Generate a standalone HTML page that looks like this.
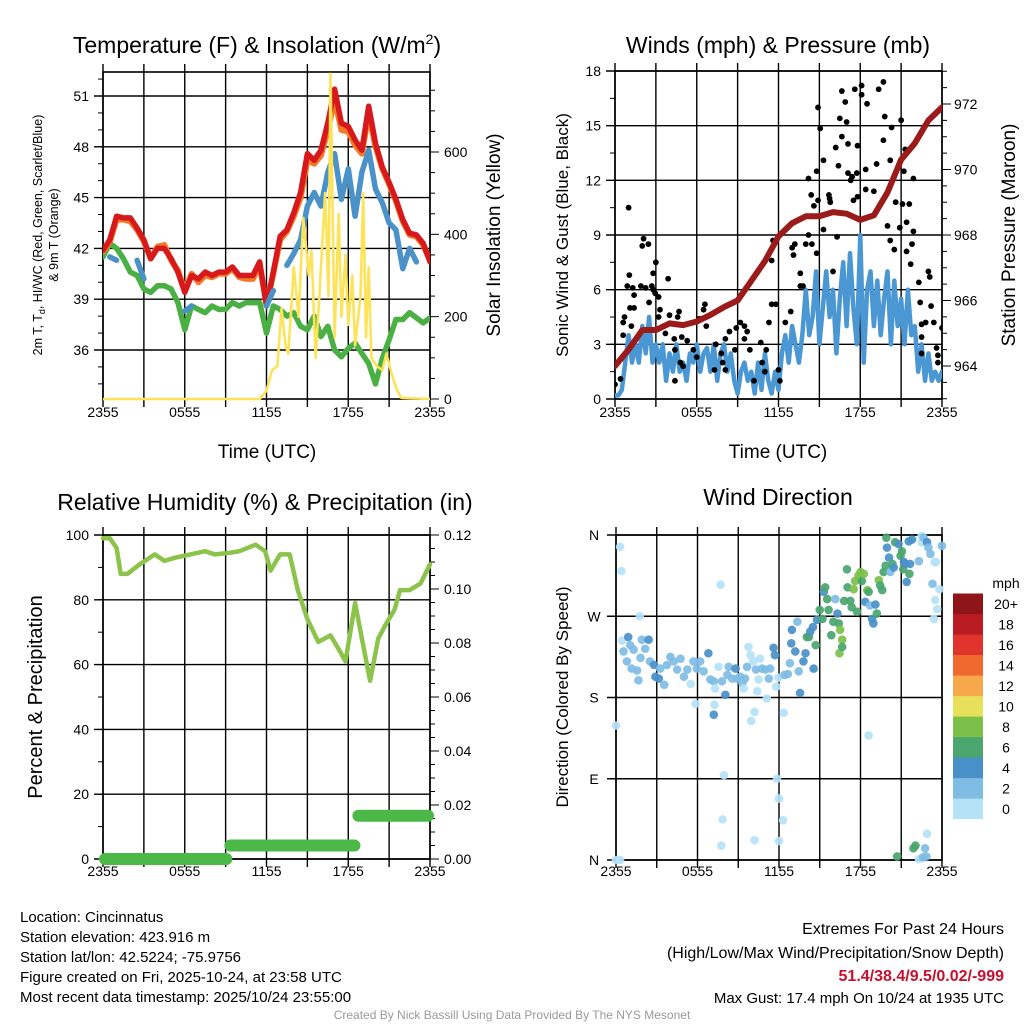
<!DOCTYPE html>
<html><head><meta charset="utf-8"><style>
html,body{margin:0;padding:0;background:#fff;}
svg{display:block;font-family:"Liberation Sans",Arial,sans-serif;}
</style></head><body>
<svg id="c" width="1024" height="1024" viewBox="0 0 1024 1024" xmlns="http://www.w3.org/2000/svg"></svg>
<script>
// ---------- DATA ----------
const timeTicks = [0, 6, 12, 18, 24];
const timeTickLabels = ["2355", "0555", "1155", "1755", "2355"];
// Panel 1 (half-hourly from 2355)
const tempRed = [41.9,42.5,43.9,43.8,43.8,43.2,42.5,41.4,42.0,42.0,41.4,40.6,39.4,40.4,40.2,40.6,40.4,40.6,40.6,40.9,40.4,40.4,40.4,41.2,38.6,40.6,42.7,43.1,44.1,45.3,47.6,47.2,47.8,49.4,51.4,49.4,49.2,48.4,47.8,50.4,48.2,46.8,45.9,44.9,43.7,42.9,42.8,42.3,41.2];
const temp9m = [41.8,42.4,43.7,43.7,43.6,43.1,42.4,41.4,42.1,42.2,41.3,40.7,39.5,40.5,40.0,40.4,40.3,40.5,40.5,40.8,40.3,40.2,40.2,41.0,38.7,40.5,42.5,43.0,43.9,45.0,47.2,47.0,47.5,49.0,50.8,49.0,48.9,48.1,47.6,50.0,48.0,46.7,45.8,44.8,43.6,42.8,42.7,42.2,41.3];
const tempHI = [null,41.5,41.3,null,null,41.3,40.2,null,null,null,null,null,38.3,38.6,null,null,null,null,39.5,null,null,null,40.5,null,38.6,39.5,null,41.0,41.7,42.5,44.5,45.3,44.5,46.5,47.6,44.9,46.7,43.9,46.5,47.8,45.5,44.7,43.5,43.1,40.8,42.0,41.2,null,null];
const tempDew = [41.5,42.3,42.0,41.4,40.6,40.4,39.6,39.4,39.8,39.8,39.6,38.8,37.2,38.6,38.4,38.2,38.6,38.4,38.4,38.8,38.6,38.8,38.8,38.8,37.0,38.6,38.4,38.0,38.2,37.4,37.2,38.0,36.8,37.4,36.0,35.6,36.1,36.4,35.8,35.2,34.0,35.5,36.6,37.8,37.8,38.2,37.9,37.6,37.9];
const solarT = [0,11.5,12.0,12.4,12.8,13.1,13.4,13.6,14.0,14.35,14.7,15.1,15.3,15.6,15.9,16.3,16.55,16.7,17.0,17.3,17.5,17.8,18.0,18.3,18.5,18.9,19.1,19.3,19.5,19.7,20.1,20.5,20.8,21.2,21.6,21.9,24];
const solarW = [0,0,20,70,80,220,130,110,320,200,440,300,360,100,260,500,250,790,150,450,200,350,180,300,130,250,500,150,320,100,80,70,110,60,20,3,0];
// Panel 2
const pressT = [0,1,2,3,4,5,6,7,8,9,10,11,12,13,14,15,16,17,18,19,20,21,22,23,24];
const pressMb = [964.0,964.5,965.1,965.1,965.3,965.25,965.36,965.56,965.8,966.0,966.6,967.2,967.96,968.36,968.57,968.57,968.7,968.65,968.46,968.6,969.3,970.3,970.8,971.5,971.9];
const windMph = [0.2,0.2,0.5,2.0, 3.5,2.0,3.0,2.0, 4.0,2.5,4.5,2.0, 3.0,2.0,3.0,1.0, 2.5,1.5,3.0,1.5, 2.0,1.0,2.5,2.0, 3.0,1.5,2.5,2.8, 1.5,3.0,1.0,2.5, 3.0,1.5,2.5,1.0, 0.3,1.5,2.0,1.0, 1.5,0.3,2.0,0.5, 2.5,1.0,0.3,1.5, 0.5,2.5,3.5,2.0, 4.0,3.0,2.0,3.5, 6.0,3.5,4.5,7.0, 3.0,5.0,7.0,4.5, 6.0,2.5,5.5,7.5, 4.0,8.0,5.0,3.0, 9.0,2.0,6.0,7.0, 4.0,6.5,3.5,5.5, 7.0,3.0,6.5,4.0, 5.5,3.0,6.0,3.5, 4.0,1.5,3.0,1.0, 2.5,1.0,1.5,1.0, 1.5];
const gustT = [0,0.4,0.6,0.6,0.7,0.9,1.0,1.05,1.1,1.2,1.3,1.4,1.4,1.9,2.1,2.0,2.45,2.25,2.7,2.8,3.0,2.8,2.95,3.2,2.5,3.3,3.2,3.9,4.0,4.7,4.6,3.7,4.35,4.9,5.3,6.6,6.5,5.75,6.0,6.2,6.7,7.4,7.8,8.1,8.4,9.2,8.9,9.5,9.7,9.5,9.9,10.2,10.7,10.8,11.0,11.1,12.0,12.1,12.5,12.9,5.0,4.4,4.4,4.8,7.9,7.3,8.1,8.8,11.6,11.5,11.5,11.8,11.3,13.0,13.2,13.1,13.6,13.6,13.8,14.0,14.2,14.45,14.8,15.3,15.75,16.0,16.3,17.5,17.8,17.3,18.4,19.0,17.75,14.9,15.06,16.65,16.9,17.6,18.1,18.1,18.5,19.7,19.35,19.8,21.0,20.3,16.5,17.0,16.2,16.65,17.1,17.8,16.4,14.8,15.3,14.2,14.4,14.6,14.9,15.7,15.8,17.1,17.4,18.4,19.2,19.7,21.3,20.2,21.2,21.9,20.6,21.1,21.6,21.4,21.9,20.9,20.0,20.2,20.5,21.4,21.8,21.7,23.0,23.1,22.3,22.4,23.2,22.5,22.8,23.4,24.0,23.6,23.7,23.7,22.5,22.5];
const gustMph = [0.8,1.1,3.5,4.2,4.5,6.2,10.5,6.8,5.0,4.0,6.1,5.7,5.0,6.2,8.8,8.4,8.5,6.1,6.2,6.0,7.5,6.9,5.8,5.6,5.3,4.9,4.5,6.6,4.6,4.8,4.5,3.6,3.3,3.4,3.2,5.2,4.9,2.7,2.3,4.4,4.0,3.0,2.5,3.3,3.7,4.2,3.9,4.0,3.7,3.3,2.7,1.0,3.1,2.0,1.5,2.7,1.6,1.0,4.2,4.8,1.8,2.7,1.0,2.0,2.0,1.6,1.6,2.7,8.7,7.6,5.2,5.2,4.2,8.3,8.5,7.9,6.9,6.2,6.2,8.5,9.0,8.5,8.0,9.3,11.0,7.0,8.9,10.9,11.1,12.0,11.5,11.4,12.4,16.0,14.85,16.9,16.3,17.0,17.2,16.7,16.2,17.4,17.0,15.5,15.3,14.9,15.4,15.2,13.8,14.4,14.0,13.9,12.8,12.5,13.1,12.1,11.2,10.6,10.9,11.2,10.8,12.4,12.2,12.6,12.9,14.2,13.7,13.1,12.5,12.1,10.8,10.7,10.7,9.7,9.2,9.4,9.5,8.7,8.2,8.1,8.5,7.4,7.0,6.7,6.4,5.3,5.1,4.1,4.2,4.2,3.9,2.8,2.4,2.0,3.4,2.5];
// Panel 3
const rhT = [0,0.5,1.0,1.3,1.8,2.7,3.8,4.5,5.3,6.4,7.5,8.2,9.3,10.0,11.2,11.9,12.3,13.0,13.7,14.3,15.0,15.8,16.7,17.4,17.8,18.5,19.0,19.6,20.2,20.7,21.4,21.8,22.5,23.3,24];
const rhPct = [99,99,96,88,88,91,94,92,93,94,95,94,94.5,95,97,95,89,94,94,83,74,67,69,64,61,79,68,55,68,72,77,83,83,85,91];
const precipStart = [0, 9.2, 18.6];
const precipEnd = [9.2, 18.6, 24];
const precipIn = [0.0, 0.005, 0.016];
// Panel 4
const dirT = [0.3,0.4,0,0,0.3,0.45,0.9,0.55,1.05,1.3,0.8,1.15,1.55,1.65,1.8,1.9,2.15,2.4,2.5,2.8,2.9,3.15,3.25,3.55,3.75,4.0,4.25,4.5,4.75,5.0,5.25,5.5,5.7,5.95,6.2,6.45,6.8,6.95,7.2,7.3,7.55,7.8,8.05,8.2,8.3,8.55,8.8,8.9,9.15,9.3,9.4,9.5,9.65,9.75,9.9,10.1,10.3,10.4,10.5,10.6,10.75,11.0,11.1,11.25,11.35,11.6,11.7,11.8,11.95,5.85,7.2,7.25,9.95,10.2,12.35,1.75,7.7,7.95,11.85,12.0,12.3,7.85,7.75,10.2,12.0,18.6,12.4,12.65,12.8,12.9,12.95,13.2,13.35,13.45,13.55,13.8,13.95,14.05,14.2,14.3,14.5,14.7,14.8,15.0,15.2,15.3,15.4,15.55,15.65,15.85,16.0,16.15,16.3,16.4,16.5,16.65,16.45,16.65,16.8,17.0,17.05,17.25,17.35,17.5,17.6,17.75,17.85,18.0,18.1,18.25,18.35,18.5,18.6,18.7,18.85,18.95,19.1,19.2,19.35,19.45,19.6,19.7,19.85,19.95,19.9,20.1,20.2,20.35,20.45,20.55,20.8,20.95,21.05,21.15,21.2,21.3,21.4,21.55,21.65,21.6,21.8,22.3,22.5,22.5,22.65,22.9,23.0,23.15,23.3,23.45,23.55,23.8,23.5,23.65,23.4,24.0,20.7,21.9,22.05,22.3,22.6,22.85,22.75,22.9,14.55];
const dirDeg = [347,320,149,0,0,243,247,231,238,233,220,212,210,199,224,244,234,244,220,216,203,201,212,194,216,225,220,211,223,203,211,195,220,212,220,209,229,200,198,190,214,198,183,205,214,201,212,201,203,196,190,201,214,236,227,220,211,187,200,223,212,211,179,201,212,235,227,192,202,173,161,172,154,164,163,270,305,94,90,68,44,45,16,22,21,138,205,206,218,240,255,231,264,209,185,220,229,247,247,253,258,238,266,277,267,297,302,289,277,249,264,289,273,262,255,244,229,236,287,322,302,287,280,300,309,275,315,319,309,317,286,299,297,282,267,262,283,273,310,304,299,319,326,346,357,335,319,328,324,352,350,337,342,322,330,328,308,353,328,317,355,331,359,352,357,352,346,339,306,330,330,300,288,278,267,348,4,13,16,1,3,4,13,29,212];
const dirSpd = [0,0,0,0,0,0,4,2,2,2,2,2,2,2,2,2,2,4,2,4,4,4,2,2,2,2,2,2,2,2,2,0,2,2,2,2,4,2,2,0,0,2,4,2,2,2,4,2,2,2,0,2,2,0,0,0,2,0,0,0,2,2,0,2,2,4,4,0,0,0,4,0,0,0,0,0,0,0,0,0,0,0,0,0,0,0,2,2,2,4,4,4,2,2,4,4,4,6,6,4,4,6,4,6,6,4,6,6,6,6,6,2,4,6,8,8,8,6,6,6,6,6,6,8,8,6,8,8,6,8,4,8,6,2,4,4,4,6,8,6,6,6,6,4,6,4,2,6,4,6,4,6,6,6,4,4,4,4,4,6,4,2,0,0,2,4,2,2,2,0,0,0,0,0,0,2,6,6,6,0,2,2,2,0,4];

// ---------- DRAWING ----------
const NS = "http://www.w3.org/2000/svg";
const svg = document.getElementById("c");
function el(tag, attrs, parent) {
  const e = document.createElementNS(NS, tag);
  for (const k in attrs) e.setAttribute(k, attrs[k]);
  (parent || svg).appendChild(e);
  return e;
}
function txt(s, x, y, size, anchor, parent, extra) {
  const t = el("text", Object.assign({x: x, y: y, "font-size": size, "text-anchor": anchor || "middle", fill: "#000"}, extra || {}), parent);
  t.textContent = s;
  return t;
}
function lin(d0, d1, r0, r1) { return v => r0 + (v - d0) / (d1 - d0) * (r1 - r0); }
function pathFrom(xs, ys, fx, fy) {
  let d = "", pen = false;
  for (let i = 0; i < xs.length; i++) {
    if (ys[i] === null) { pen = false; continue; }
    d += (pen ? "L" : "M") + fx(xs[i]).toFixed(1) + " " + fy(ys[i]).toFixed(1);
    pen = true;
  }
  return d;
}
const halfHours = tempRed.map((_, i) => i * 0.5);
const quarterHours = windMph.map((_, i) => i * 0.25);

function frame(g, L, R, T, B, fx, vGridHours, hGridVals, fy, tickLabelY) {
  for (const h of vGridHours) {
    el("line", {x1: fx(h), x2: fx(h), y1: T - 8, y2: B + 8, stroke: "#000", "stroke-width": 1.4}, g);
  }
  for (const v of hGridVals) {
    el("line", {x1: L - 9, x2: R, y1: fy(v), y2: fy(v), stroke: "#000", "stroke-width": 1.4}, g);
  }
  el("rect", {x: L, y: T, width: R - L, height: B - T, fill: "none", stroke: "#000", "stroke-width": 1.6}, g);
  timeTicks.forEach((h, i) => {
    const t = txt(timeTickLabels[i], fx(h), tickLabelY, 14, "middle", g);
    
    
  });
}

// ===== Panel 1 =====
(function () {
  const L = 103, R = 430, T = 72, B = 399;
  const g = el("g", { });
  const fx = lin(0, 24, L, R);
  const fy = lin(51, 36, 96, 350);
  const fs = lin(0, 600, 399, 152);
  frame(g, L, R, T, B, fx, [0,3,6,9,12,15,18,21,24], [36,39,42,45,48,51], fy, 417);
  for (let v = 34; v <= 52; v++) el("line", {x1: L - 5, x2: L, y1: fy(v), y2: fy(v), stroke: "#000", "stroke-width": 1}, g);
  [36,39,42,45,48,51].forEach(v => { const t = txt(String(v), L - 14, fy(v) + 5, 14, "end", g);   });
  for (let v = 0; v <= 750; v += 50) el("line", {x1: R, x2: R + (v % 200 === 0 ? 9 : 5), y1: fs(v), y2: fs(v), stroke: "#000", "stroke-width": 1}, g);
  [0,200,400,600].forEach(v => { const t = txt(String(v), R + 14, fs(v) + 5, 14, "start", g);   });
  const clip = el("clipPath", {id: "cp1"}, g); el("rect", {x: L, y: T - 2, width: R - L, height: B - T + 4}, clip);
  const pg = el("g", {"clip-path": "url(#cp1)"}, g);
  const s1 = el("path", {d: pathFrom(halfHours, tempDew, fx, fy), fill: "none", stroke: "#4bb043", "stroke-width": 5.5, "stroke-linejoin": "round", "stroke-linecap": "round"}, pg);
   
  const s2 = el("path", {d: pathFrom(halfHours, temp9m, fx, fy), fill: "none", stroke: "#f47a2a", "stroke-width": 6, "stroke-linejoin": "round", "stroke-linecap": "round"}, pg);
   
  const s3 = el("path", {d: pathFrom(halfHours, tempRed, fx, fy), fill: "none", stroke: "#d7191c", "stroke-width": 5.5, "stroke-linejoin": "round", "stroke-linecap": "round"}, pg);
   
  const s4 = el("path", {d: pathFrom(halfHours, tempHI, fx, fy), fill: "none", stroke: "#4a92c8", "stroke-width": 5.5, "stroke-linejoin": "round", "stroke-linecap": "round"}, pg);
   
  const s5 = el("path", {d: pathFrom(solarT, solarW, fx, fs), fill: "none", stroke: "#fde35a", "stroke-width": 2.6, "stroke-linejoin": "round"}, pg);
   
  const ti = txt("Temperature (F) & Insolation (W/m", 257, 53, 23, "middle", g);
  const sup = el("tspan", {dy: -9, "font-size": 14}, ti); sup.textContent = "2";
  const cl = el("tspan", {dy: 9}, ti); cl.textContent = ")";
   
  const xl = txt("Time (UTC)", 267, 458, 19, "middle", g);  
  const yl = el("text", {transform: "translate(42,235) rotate(-90)", "font-size": 12.5, "text-anchor": "middle"}, g);
  yl.innerHTML = '2m T, T<tspan font-size="9" dy="3">d</tspan><tspan dy="-3">, HI/WC (Red, Green, Scarlet/Blue)</tspan>';
   
  const yl2 = el("text", {transform: "translate(58,235) rotate(-90)", "font-size": 12.5, "text-anchor": "middle"}, g);
  yl2.textContent = "& 9m T (Orange)";
   
  const yr = el("text", {transform: "translate(500,235) rotate(-90)", "font-size": 19, "text-anchor": "middle"}, g);
  yr.textContent = "Solar Insolation (Yellow)";
   
})();

// ===== Panel 2 =====
(function () {
  const L = 615, R = 942, T = 71, B = 399;
  const g = el("g", { });
  const fx = lin(0, 24, L, R);
  const fy = lin(0, 18, 399, 71);
  const fp = lin(964, 972, 366, 104);
  frame(g, L, R, T, B, fx, [0,3,6,9,12,15,18,21,24], [0,3,6,9,12,15,18], fy, 417);
  for (let v = 0; v <= 18; v += 1.5) el("line", {x1: L - 5, x2: L, y1: fy(v), y2: fy(v), stroke: "#000", "stroke-width": 1}, g);
  [0,3,6,9,12,15,18].forEach(v => { const t = txt(String(v), L - 14, fy(v) + 5, 14, "end", g);   });
  for (let v = 963; v <= 973; v += 0.5) el("line", {x1: R, x2: R + (v % 2 === 0 ? 9 : 5), y1: fp(v), y2: fp(v), stroke: "#000", "stroke-width": 1}, g);
  [964,966,968,970,972].forEach(v => { const t = txt(String(v), R + 12, fp(v) + 5, 14, "start", g);   });
  const clip = el("clipPath", {id: "cp2"}, g); el("rect", {x: L, y: T - 2, width: R - L, height: B - T + 4}, clip);
  const pg = el("g", {"clip-path": "url(#cp2)"}, g);
  const w = el("path", {d: pathFrom(quarterHours, windMph, fx, fy), fill: "none", stroke: "#4a97d3", "stroke-width": 4.5, "stroke-linejoin": "round", "stroke-linecap": "round"}, pg);
   
  gustT.forEach((t, i) => {
    const c = el("circle", {cx: fx(t), cy: fy(gustMph[i]), r: 2.9, fill: "#000"}, pg);
    
    
  });
  const p = el("path", {d: pathFrom(pressT, pressMb, fx, fp), fill: "none", stroke: "#9b1a1a", "stroke-width": 6, "stroke-linejoin": "round", "stroke-linecap": "round"}, pg);
   
  const ti = txt("Winds (mph) & Pressure (mb)", 778, 53, 23, "middle", g);  
  const xl = txt("Time (UTC)", 778, 458, 19, "middle", g);  
  const yl = el("text", {transform: "translate(568,235) rotate(-90)", "font-size": 17, "text-anchor": "middle"}, g);
  yl.textContent = "Sonic Wind & Gust (Blue, Black)";
   
  const yr = el("text", {transform: "translate(1015,235) rotate(-90)", "font-size": 19, "text-anchor": "middle"}, g);
  yr.textContent = "Station Pressure (Maroon)";
   
})();

// ===== Panel 3 =====
(function () {
  const L = 103, R = 430, T = 535, B = 859;
  const g = el("g", { });
  const fx = lin(0, 24, L, R);
  const fy = lin(0, 100, 859, 535);
  const fpr = lin(0, 0.12, 859, 535);
  frame(g, L, R, T, B, fx, [0,3,6,9,12,15,18,21,24], [0,20,40,60,80,100], fy, 876);
  for (let v = 0; v <= 100; v += 10) el("line", {x1: L - 5, x2: L, y1: fy(v), y2: fy(v), stroke: "#000", "stroke-width": 1}, g);
  [0,20,40,60,80,100].forEach(v => { const t = txt(String(v), L - 14, fy(v) + 5, 14, "end", g);   });
  for (let i = 0; i <= 24; i++) { const v = i * 0.005; el("line", {x1: R, x2: R + (i % 4 === 0 ? 9 : 5), y1: fpr(v), y2: fpr(v), stroke: "#000", "stroke-width": 1}, g); }
  [0,0.02,0.04,0.06,0.08,0.10,0.12].forEach(v => { const t = txt(v.toFixed(2), R + 14, fpr(v) + 5, 14, "start", g);   });
  const rh = el("path", {d: pathFrom(rhT, rhPct, fx, fy), fill: "none", stroke: "#8cc34a", "stroke-width": 4.5, "stroke-linejoin": "round", "stroke-linecap": "round"}, g);
   
  precipIn.forEach((v, i) => {
    const s = el("line", {x1: fx(precipStart[i]) + 2, x2: fx(precipEnd[i]) - 2, y1: fpr(v), y2: fpr(v), stroke: "#4cb848", "stroke-width": 12, "stroke-linecap": "round"}, g);
    
    
  });
  const ti = txt("Relative Humidity (%) & Precipitation (in)", 265, 510, 23, "middle", g);  
  const yl = el("text", {transform: "translate(42,697) rotate(-90)", "font-size": 20, "text-anchor": "middle"}, g);
  yl.textContent = "Percent & Precipitation";
   
})();

// ===== Panel 4 =====
const speedBins = [0,2,4,6,8,10,12,14,16,18,20];
const speedColors = ["#b5e2f7","#7fbde4","#4a90c8","#4aa56e","#7cc04a","#e8e05a","#f6a84a","#f06a30","#e0332b","#bb1c24","#8e1518"];
(function () {
  const L = 616, R = 942, T = 535, B = 860;
  const g = el("g", { });
  const fx = lin(0, 24, L, R);
  const fy = lin(0, 360, 860, 535);
  frame(g, L, R, T, B, fx, [0,3,6,9,12,15,18,21,24], [0,90,180,270,360], fy, 876);
  [["N",0],["E",90],["S",180],["W",270],["N",360]].forEach(([s, v]) => { const t = txt(s, L - 22, fy(v) + 5, 14, "middle", g);   });
  dirT.forEach((t, i) => {
    let ci = 0;
    for (let k = 0; k < speedBins.length; k++) if (dirSpd[i] >= speedBins[k]) ci = k;
    const c = el("circle", {cx: fx(t), cy: fy(dirDeg[i]), r: 4.3, fill: speedColors[ci], "fill-opacity": 0.92}, g);
    
    
  });
  const ti = txt("Wind Direction", 778, 505, 23, "middle", g);  
  const yl = el("text", {transform: "translate(568,697) rotate(-90)", "font-size": 17, "text-anchor": "middle"}, g);
  yl.textContent = "Direction (Colored By Speed)";
   
  const lg = el("g", { }, g);
  const lt = txt("mph", 1006, 588, 14, "middle", lg);  
  const labels = ["0","2","4","6","8","10","12","14","16","18","20+"];
  for (let k = 0; k < 11; k++) {
    const y = 819 - (k + 1) * 20.5;
    const r = el("rect", {x: 953, y: y, width: 30, height: 20.6, fill: speedColors[k]}, lg);
    
    
    const t = txt(labels[k], 1006, y + 15.5, 14, "middle", lg);
    
    
  }
})();

// ===== Footer text =====
(function () {
  const g = el("g", { });
  ["Location: Cincinnatus","Station elevation: 423.916 m","Station lat/lon: 42.5224; -75.9756","Figure created on Fri, 2025-10-24, at 23:58 UTC","Most recent data timestamp: 2025/10/24 23:55:00"].forEach((s, i) => {
    const t = txt(s, 20, 922 + i * 20, 15, "start", g);
    
    
  });
  const g2 = el("g", { });
  const a = txt("Extremes For Past 24 Hours", 1004, 934, 16, "end", g2);  
  const b = txt("(High/Low/Max Wind/Precipitation/Snow Depth)", 1004, 958, 16, "end", g2);  
  const c = txt("51.4/38.4/9.5/0.02/-999", 1004, 981, 16, "end", g2, {fill: "#c8102e", "font-weight": "bold"});  
  const d = txt("Max Gust: 17.4 mph On 10/24 at 1935 UTC", 1004, 1003, 15, "end", g2);  
  const e = txt("Created By Nick Bassill Using Data Provided By The NYS Mesonet", 512, 1019, 12, "middle", svg, {fill: "#999"});  
})();
</script>
</body></html>
